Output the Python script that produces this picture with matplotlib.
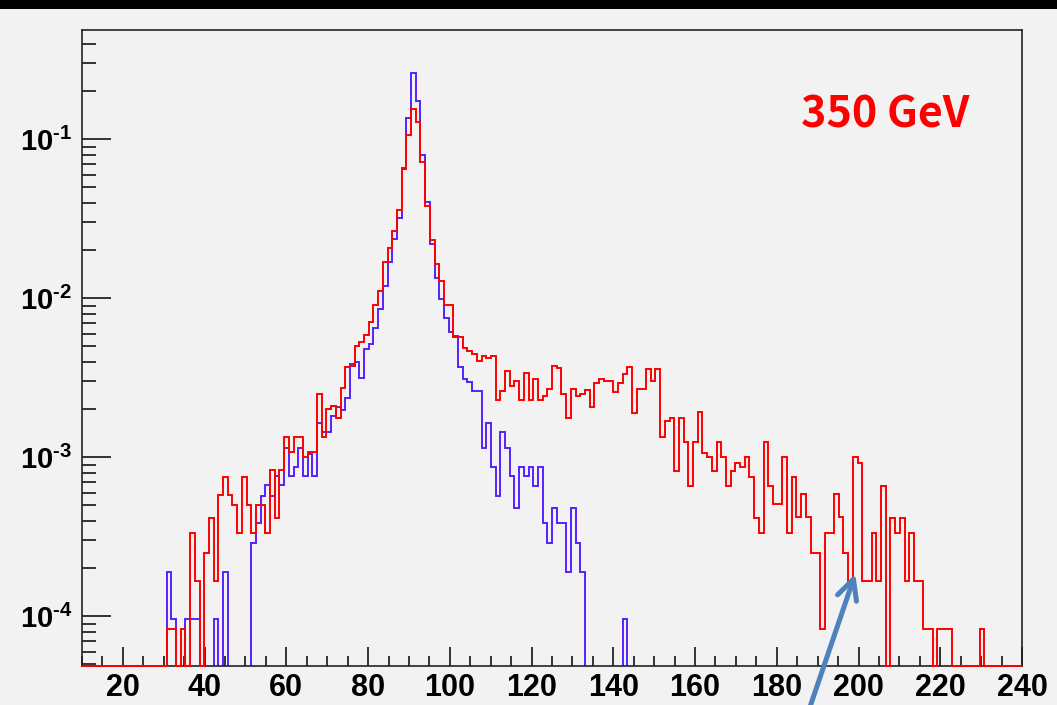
import matplotlib
matplotlib.use("Agg")
import matplotlib.pyplot as plt
import numpy as np
from matplotlib.patches import Rectangle
from matplotlib.ticker import LogLocator, NullFormatter, MultipleLocator

plt.rcParams['font.family'] = ['Liberation Sans', 'DejaVu Sans']
plt.rcParams['font.weight'] = 'bold'
plt.rcParams['mathtext.fontset'] = 'custom'
plt.rcParams['mathtext.rm'] = 'Liberation Sans:bold'
plt.rcParams['mathtext.bf'] = 'Liberation Sans:bold'

# 200 bins between 10 and 240 GeV, both histograms normalised to unit area
x_lo, x_hi, n_bins = 10, 240, 200
first_bin = 18

# dilepton mass, 350 GeV sample (red), bins 18..191
red = [
    8.3e-5, 8.3e-5, 0, 8.3e-5, 0, 3.33e-4, 1.66e-4, 0, 2.49e-4, 4.17e-4,
    1.66e-4, 5.8e-4, 7.5e-4, 5.8e-4, 5.0e-4, 3.33e-4, 7.5e-4, 5.0e-4, 3.33e-4, 5.0e-4,
    5.0e-4, 3.33e-4, 8.3e-4, 4.17e-4, 8.3e-4, 1.35e-3, 1.08e-3, 1.35e-3, 1.35e-3, 1.0e-3,
    1.08e-3, 1.08e-3, 2.49e-3, 1.35e-3, 2.0e-3, 2.1e-3, 1.76e-3, 2.74e-3, 3.71e-3, 3.77e-3,
    5.03e-3, 5.3e-3, 5.88e-3, 7.13e-3, 9.08e-3, 1.11e-2, 1.69e-2, 2.08e-2, 2.67e-2, 3.6e-2,
    6.57e-2, 0.106, 0.155, 0.128, 7.23e-2, 3.82e-2, 2.33e-2, 1.64e-2, 1.29e-2, 9.08e-3,
    9.08e-3, 5.8e-3, 5.7e-3, 4.9e-3, 4.66e-3, 4.45e-3, 4.05e-3, 4.35e-3, 4.24e-3, 4.35e-3,
    2.3e-3, 2.61e-3, 3.47e-3, 2.81e-3, 3.02e-3, 2.29e-3, 3.4e-3, 2.29e-3, 3.11e-3, 2.29e-3,
    2.43e-3, 2.68e-3, 3.77e-3, 3.66e-3, 2.5e-3, 1.76e-3, 2.68e-3, 2.43e-3, 2.49e-3, 2.66e-3,
    2.08e-3, 2.94e-3, 3.1e-3, 3.02e-3, 3.02e-3, 2.59e-3, 2.94e-3, 3.34e-3, 3.69e-3, 1.89e-3,
    2.68e-3, 2.68e-3, 3.57e-3, 3.02e-3, 3.57e-3, 1.35e-3, 1.69e-3, 1.76e-3, 8.24e-4, 1.76e-3,
    1.25e-3, 6.63e-4, 1.25e-3, 1.92e-3, 1.07e-3, 1.01e-3, 8.24e-4, 1.25e-3, 1.01e-3, 6.63e-4,
    8.24e-4, 9.16e-4, 8.7e-4, 1.01e-3, 7.5e-4, 4.17e-4, 3.34e-4, 1.25e-3, 6.63e-4, 5.06e-4,
    5.06e-4, 1.01e-3, 3.34e-4, 7.48e-4, 4.2e-4, 5.88e-4, 4.2e-4, 2.49e-4, 2.49e-4, 8.3e-5,
    3.34e-4, 3.34e-4, 5.88e-4, 4.2e-4, 2.49e-4, 1.66e-4, 1.0e-3, 9.2e-4, 1.66e-4, 1.66e-4,
    3.34e-4, 1.66e-4, 6.63e-4, 0, 4.17e-4, 3.33e-4, 4.17e-4, 1.66e-4, 3.33e-4, 1.66e-4,
    1.66e-4, 8.3e-5, 8.3e-5, 0, 8.3e-5, 8.3e-5, 8.3e-5, 0, 0, 0,
    0, 0, 0, 8.3e-5,
]

# reference Z sample (blue), bins 18..115
blue = [
    1.91e-4, 9.6e-5, 0, 0, 9.6e-5, 9.6e-5, 9.6e-5, 0, 0, 0,
    9.6e-5, 0, 1.91e-4, 0, 0, 0, 0, 0, 2.88e-4, 3.85e-4,
    5.7e-4, 6.7e-4, 5.7e-4, 7.6e-4, 6.7e-4, 1.14e-3, 7.6e-4, 8.7e-4, 1.14e-3, 7.6e-4,
    1.05e-3, 7.6e-4, 1.64e-3, 1.45e-3, 1.45e-3, 1.81e-3, 2.08e-3, 1.98e-3, 2.36e-3, 3.87e-3,
    3.96e-3, 3.17e-3, 4.8e-3, 5.16e-3, 6.47e-3, 8.6e-3, 1.19e-2, 1.70e-2, 2.36e-2, 3.2e-2,
    6.5e-2, 0.137, 0.260, 0.175, 7.96e-2, 4.02e-2, 2.19e-2, 1.34e-2, 9.9e-3, 7.48e-3,
    6.1e-3, 5.69e-3, 3.68e-3, 3.1e-3, 2.96e-3, 2.61e-3, 2.61e-3, 1.14e-3, 1.64e-3, 8.73e-4,
    5.74e-4, 1.45e-3, 1.15e-3, 7.66e-4, 4.82e-4, 8.73e-4, 7.66e-4, 8.73e-4, 6.63e-4, 8.73e-4,
    3.88e-4, 2.9e-4, 4.82e-4, 3.88e-4, 3.88e-4, 1.91e-4, 4.82e-4, 2.9e-4, 1.91e-4, 0,
    0, 0, 0, 0, 0, 0, 0, 9.6e-5,
]

x_ticks = list(range(20, 241, 20))
y_ticks = [1e-4, 1e-3, 1e-2, 1e-1]
y_labels = ['$\\mathbf{10^{\u2010%d}}$' % k for k in (4, 3, 2, 1)]
y_lo, y_hi = 4.87e-5, 0.487
label = '350 GeV'
arrow_at = (199.2, 1.85e-4)


def fill_bins(vals):
    h = np.zeros(n_bins)
    h[first_bin:first_bin + len(vals)] = vals
    return h


edges = np.linspace(x_lo, x_hi, n_bins + 1)
h_red = fill_bins(red)
h_blue = fill_bins(blue)

bg = '#f2f2f2'
fig = plt.figure(figsize=(10.57, 7.05), dpi=100, facecolor=bg)
ax = fig.add_axes([82 / 1057, 39 / 705, 940 / 1057, 636 / 705], facecolor=bg)

# empty bins: blue ones fall below the frame, red ones sit on the x axis
ax.stairs(np.where(h_blue > 0, h_blue, y_lo / 10), edges, baseline=None,
          color='#5522ff', lw=1.4, zorder=2)
ax.stairs(np.where(h_red > 0, h_red, y_lo), edges, baseline=None,
          color='#ff0000', lw=1.4, zorder=3, clip_on=False)

ax.set_yscale('log')
ax.set_xlim(x_lo, x_hi)
ax.set_ylim(y_lo, y_hi)

ax.set_xticks(x_ticks)
ax.set_xticklabels([str(t) for t in x_ticks])
ax.xaxis.set_minor_locator(MultipleLocator(5))
ax.set_yticks(y_ticks)
ax.set_yticklabels(y_labels)
ax.yaxis.set_minor_locator(LogLocator(base=10, subs=np.arange(2, 10)))
ax.yaxis.set_minor_formatter(NullFormatter())

ax.tick_params(axis='x', which='major', direction='in', length=14, width=1.1,
               labelsize=22, pad=5, top=False)
ax.tick_params(axis='x', which='minor', direction='in', length=7, width=1.1, top=False)
ax.tick_params(axis='y', which='major', direction='in', length=21, width=1.1,
               labelsize=21, pad=7, right=False)
ax.tick_params(axis='y', which='minor', direction='in', length=10, width=1.1, right=False)
for s in ax.spines.values():
    s.set_linewidth(1.2)
    s.set_color('#222222')

ax.annotate('', xy=arrow_at, xytext=(-33, -97), textcoords='offset points',
            annotation_clip=False,
            arrowprops=dict(arrowstyle='->,head_length=0.72,head_width=0.36',
                            mutation_scale=20, color='#4f81bd', lw=3.6,
                            shrinkA=0, shrinkB=0, capstyle='round',
                            joinstyle='round'))

fig.text(885 / 1057, 1 - 114 / 705, label, color='#ff0000', fontsize=31,
         fontweight='bold', ha='center', va='center',
         family=['Noto Sans CJK JP', 'DejaVu Sans'])

fig.patches.append(Rectangle((0, 1 - 9 / 705), 1, 9 / 705, transform=fig.transFigure,
                             facecolor='black', edgecolor='none', zorder=10))

fig.savefig('out.png', dpi=100, facecolor=bg)
